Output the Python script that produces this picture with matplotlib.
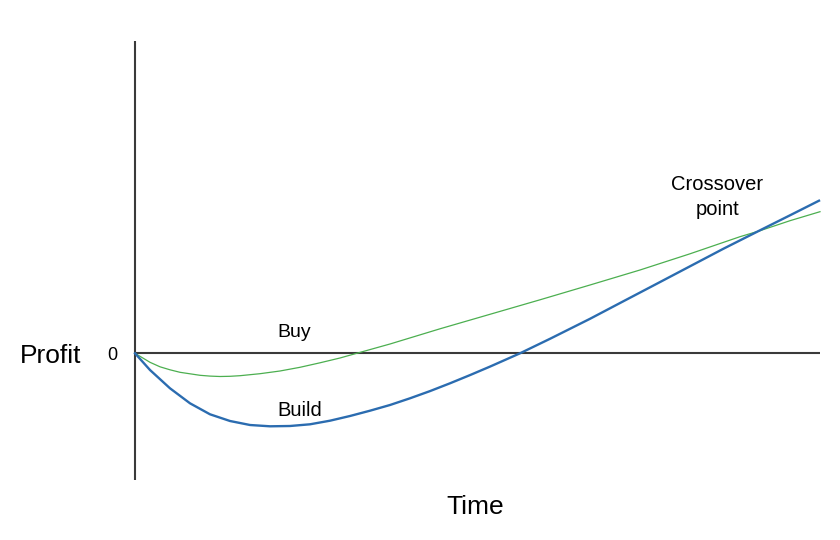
import matplotlib
matplotlib.use("Agg")
import matplotlib.pyplot as plt

plt.rcParams['font.family'] = ['Liberation Sans', 'DejaVu Sans']

# Time (arbitrary units) and profit (arbitrary units)
build_time = [0, 1.5, 3.5, 5.5, 7.5, 9.5, 11.5, 13.5, 15.5, 17.5, 19.5, 21.5, 23.5, 25.5,
              27.5, 29.5, 31.5, 33.5, 35.5, 38.5, 41.5, 45.5, 48.83, 52.17, 55.5, 58.83,
              62.5, 65.5, 68.4]
build_profit = [0, -1.67, -3.50, -5.00, -6.10, -6.77, -7.17, -7.30, -7.27, -7.10, -6.74,
                -6.27, -5.74, -5.17, -4.50, -3.78, -3.00, -2.18, -1.33, 0.0, 1.45, 3.45,
                5.20, 6.95, 8.70, 10.45, 12.30, 13.80, 15.26]

buy_time = [0, 1.5, 2.5, 3.5, 4.5, 5.5, 6.5, 7.5, 8.5, 9.5, 10.5, 12.5, 14.5, 16.5, 18.5,
            20.5, 22.17, 25.5, 30.5, 35.5, 40.5, 45.5, 50.5, 55.5, 60.5, 62.5, 65.5, 68.5]
buy_profit = [0, -0.90, -1.35, -1.65, -1.90, -2.05, -2.20, -2.28, -2.32, -2.30, -2.24,
              -2.04, -1.77, -1.40, -0.95, -0.47, 0.0, 0.93, 2.45, 3.90, 5.35, 6.83, 8.33,
              9.95, 11.66, 12.26, 13.26, 14.16]

series_labels = ["Buy", "Build"]
axis_labels = ["Profit", "Time"]
zero_label = "0"
annotation = ["Crossover", "point"]

fig = plt.figure(figsize=(8.4, 5.4), dpi=100)
ax = fig.add_axes([0, 0, 1, 1])
ax.set_xlim(-13.5, 70.5)
ax.set_ylim(-18.67, 35.33)
ax.axis('off')

axis_color = '#3a3a3a'
ax.plot([-0.05, -0.05], [-12.67, 31.2], color=axis_color, lw=1.5, solid_capstyle='butt')
ax.plot([0, 68.5], [0, 0], color=axis_color, lw=1.5, solid_capstyle='butt')

ax.plot(buy_time, buy_profit, color='#4caf50', lw=0.9, solid_joinstyle='round')
ax.plot(build_time, build_profit, color='#2b6cb0', lw=1.7, solid_joinstyle='round')

ax.text(-8.4, -0.97, axis_labels[0], fontsize=19, ha='center', va='baseline')
ax.text(34.05, -16.07, axis_labels[1], fontsize=19, ha='center', va='baseline')
ax.text(-2.3, -0.67, zero_label, fontsize=13, ha='center', va='baseline')
ax.text(15.95, 1.63, series_labels[0], fontsize=14, ha='center', va='baseline')
ax.text(16.5, -6.27, series_labels[1], fontsize=14.5, ha='center', va='baseline')
ax.text(58.25, 16.33, annotation[0], fontsize=14.5, ha='center', va='baseline')
ax.text(58.25, 13.83, annotation[1], fontsize=14.5, ha='center', va='baseline')

fig.savefig("out.png", dpi=100, facecolor='white')
